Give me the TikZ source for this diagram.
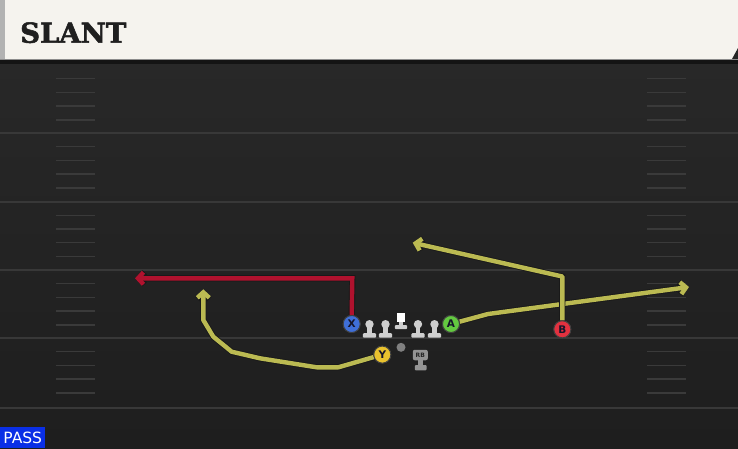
\documentclass[tikz,border=0pt]{standalone}
\usepackage{fontspec}
\usetikzlibrary{arrows.meta}
\newfontfamily\titlefont[FakeBold=2]{DejaVu Serif Bold}
\newfontfamily\labelfont{DejaVu Sans}
\definecolor{fieldtop}{HTML}{282828}
\definecolor{fieldbot}{HTML}{1E1E1E}
\definecolor{yardline}{HTML}{383838}
\definecolor{hashc}{HTML}{3A3A3A}
\definecolor{headerc}{HTML}{F5F3EE}
\definecolor{routeY}{HTML}{BBBA52}
\definecolor{routeR}{HTML}{B0122E}
\definecolor{pX}{HTML}{3F6FD8}
\definecolor{pA}{HTML}{63C940}
\definecolor{pY}{HTML}{E9C22E}
\definecolor{pB}{HTML}{E2313F}
\definecolor{passblue}{HTML}{0A2FE6}
\definecolor{linec}{HTML}{CFCFCF}
\definecolor{letterc}{HTML}{15152A}
\tikzset{
  yardl/.style={draw=yardline, line width=2pt},
  hashmark/.style={draw=hashc, line width=1.4pt},
  routebase/.style={line width=4.4pt, line join=round,
     -{Straight Barb[length=5.5pt,width=12pt,line width=4.4pt]},
     preaction={draw=black!90, line width=6.2pt,
     -{Straight Barb[length=5.5pt,width=12pt,line width=6.2pt]}}},
  yroute/.style={routebase, draw=routeY},
  rroute/.style={routebase, draw=routeR, line join=miter},
  player/.style={circle, minimum size=17pt, inner sep=0pt, draw=black!75,
     line width=0.9pt, text=letterc, font=\labelfont\bfseries\fontsize{10.5}{10.5}\selectfont},
  pics/lineman/.style={code={
     \fill[linec] (0,0) circle (4.2);
     \fill[linec] (-2.2,3) rectangle (2.2,9.5);
     \fill[linec, rounded corners=1pt] (-6.7,9) rectangle (6.7,13.4);
  }},
  pics/centerman/.style={code={
     \fill[white] (-4.4,-4.4) rectangle (4.4,4.4);
     \fill[linec] (-2.2,4) rectangle (2.2,8);
     \fill[linec, rounded corners=1pt] (-6.2,7.3) rectangle (6.2,11.5);
  }}
}
\begin{document}
\begin{tikzpicture}[x=1pt,y=-1pt]
\useasboundingbox (0,0) rectangle (738,448);
% field
\shade[top color=fieldtop, bottom color=fieldbot] (0,59) rectangle (738,448);
\fill[black!92] (0,59) rectangle (738,64);
% yard lines
\foreach \yl in {132.7,201.7,270,338,408}
  \draw[yardl] (0,\yl) -- (738,\yl);
% hash marks
\foreach \b in {65,133,201.5,270,338}
  \foreach \k in {1,2,3,4} {
    \draw[hashmark] (56,{\b+\k*13.7}) -- (95,{\b+\k*13.7});
    \draw[hashmark] (647,{\b+\k*13.7}) -- (686,{\b+\k*13.7});
  }
% header
\fill[headerc] (0,0) rectangle (738,59);
\fill[black!30] (0,0) rectangle (4.5,59);
\fill[black!85] (732,59) -- (738,48) -- (738,59) -- cycle;
\draw[black!45, line width=0.8pt] (0,59) -- (738,59);
\node[anchor=base west, inner sep=0pt, text=black!88,
  font=\titlefont\fontsize{27.5}{27.5}\selectfont] (title) at (20,42.7) {SLANT};
% PASS label
\node[anchor=south west, fill=passblue, text=white, inner xsep=3pt, inner ysep=2.5pt,
  minimum width=45pt, minimum height=20.5pt,
  font=\labelfont\fontsize{15.5}{15.5}\selectfont] (pass) at (0,448) {PASS};
% line
\pic (lt) at (369.5,324.2) {lineman};
\pic (lg) at (385.5,324.2) {lineman};
\pic (ce) at (401,317.7) {centerman};
\pic (rg) at (418,324.2) {lineman};
\pic (rt) at (434.5,324.2) {lineman};
% ball / QB
\node[circle, fill=black!50, minimum size=9pt, inner sep=0pt] (qb) at (401,347.3) {};
% RB
\fill[black!42] (418.2,359) rectangle (422.8,366);
\fill[black!42, rounded corners=1pt] (414.8,365) rectangle (426.6,370.3);
\node[fill=black!42, rounded corners=2pt, minimum width=15pt, minimum height=10.5pt,
  inner sep=0pt, text=black!85, font=\labelfont\bfseries\fontsize{6}{6}\selectfont] (rb) at (420.3,355) {RB};
% skill players
\node[player, fill=pX] (X) at (351.7,324) {X};
\node[player, fill=pA] (A) at (451,324) {A};
\node[player, fill=pY] (Y) at (382.3,354.6) {Y};
\node[player, fill=pB] (B) at (562.3,329.3) {B};
% route points
\coordinate (xc) at (352.3,278.3);
\coordinate (xe) at (135,278.3);
\coordinate (y1) at (338.3,367.3);
\coordinate (y2) at (316.7,367.3);
\coordinate (y3) at (260,358.3);
\coordinate (y4) at (231.7,351.7);
\coordinate (y5) at (213.3,336.7);
\coordinate (y6) at (203.3,320);
\coordinate (ye) at (203.3,289.3);
\coordinate (a1) at (488,314);
\coordinate (ae) at (689,287);
\coordinate (b1) at (562.3,276.5);
\coordinate (be) at (412.7,242.7);
% routes
\draw[rroute] (X.north) -- (xc) -- (xe);
\draw[yroute] (Y) -- (y1) -- (y2) -- (y3) -- (y4) -- (y5) -- (y6) -- (ye);
\draw[yroute] (A) -- (a1) -- (ae);
\draw[yroute] (B.north) -- (b1) -- (be);
% players on top of their routes
\node[player, fill=pX] at (X) {X};
\node[player, fill=pA] at (A) {A};
\node[player, fill=pY] at (Y) {Y};
\node[player, fill=pB] at (B) {B};
\end{tikzpicture}
\end{document}
